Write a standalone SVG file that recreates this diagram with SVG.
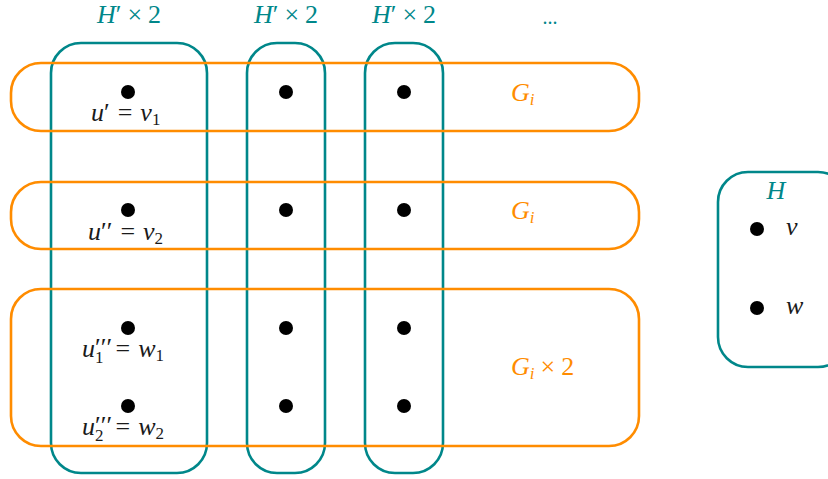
<svg xmlns="http://www.w3.org/2000/svg" width="828" height="479" viewBox="0 0 828 479">
<style>
.t{fill:none;stroke:#00878a;stroke-width:2.6}
.o{fill:none;stroke:#ff8c00;stroke-width:2.6}
text{font-family:'Liberation Serif','Times New Roman',serif;font-size:26px}
.i{font-style:italic}
.tl{fill:#00878a}
.ol{fill:#ff8c00}
.bl{fill:#1a1a1a}
.d{fill:#000}
.s{font-size:17px}
</style>
<rect width="828" height="479" fill="#fff"/>
<g id="columns">
<g id="col1"><rect class="t" x="51" y="43" width="156" height="430" rx="30"/><text class="tl" x="129" y="23" text-anchor="middle"><tspan class="i">H</tspan>′<tspan dx="6">×</tspan><tspan dx="6">2</tspan></text></g>
<g id="col2"><rect class="t" x="247" y="43" width="78" height="430" rx="30"/><text class="tl" x="286" y="23" text-anchor="middle"><tspan class="i">H</tspan>′<tspan dx="6">×</tspan><tspan dx="6">2</tspan></text></g>
<g id="col3"><rect class="t" x="365" y="43" width="78" height="430" rx="30"/><text class="tl" x="404" y="23" text-anchor="middle"><tspan class="i">H</tspan>′<tspan dx="6">×</tspan><tspan dx="6">2</tspan></text></g>
<text class="tl" x="550" y="24" text-anchor="middle" style="font-size:20px">...</text>
</g>
<g id="rows">
<g id="row1"><rect class="o" x="11" y="63" width="628" height="68" rx="30"/><text class="ol" x="511" y="101"><tspan class="i">G</tspan><tspan class="s i" dy="4">i</tspan></text></g>
<g id="row2"><rect class="o" x="11" y="182" width="628" height="67" rx="30"/><text class="ol" x="511" y="219"><tspan class="i">G</tspan><tspan class="s i" dy="4">i</tspan></text></g>
<g id="row3"><rect class="o" x="11" y="289" width="628" height="157" rx="30"/><text class="ol" x="511" y="375"><tspan class="i">G</tspan><tspan class="s i" dy="4">i</tspan><tspan dy="-4" dx="6">×</tspan><tspan dx="6">2</tspan></text></g>
</g>
<g id="H">
<rect class="t" x="718" y="172" width="130" height="195" rx="30"/>
<text class="tl i" x="776" y="199" text-anchor="middle">H</text>
<circle class="d" cx="757" cy="229" r="7"/><text class="bl i" x="786" y="235">v</text>
<circle class="d" cx="757" cy="308" r="7"/><text class="bl i" x="786" y="314">w</text>
</g>
<g id="dots">
<circle class="d" cx="128" cy="92" r="7"/><circle class="d" cx="286" cy="92" r="7"/><circle class="d" cx="404" cy="92" r="7"/>
<circle class="d" cx="128" cy="210" r="7"/><circle class="d" cx="286" cy="210" r="7"/><circle class="d" cx="404" cy="210" r="7"/>
<circle class="d" cx="128" cy="328" r="7"/><circle class="d" cx="286" cy="328" r="7"/><circle class="d" cx="404" cy="328" r="7"/>
<circle class="d" cx="128" cy="406" r="7"/><circle class="d" cx="286" cy="406" r="7"/><circle class="d" cx="404" cy="406" r="7"/>
</g>
<g id="labels">
<text class="bl" x="91" y="121"><tspan class="i">u</tspan>′<tspan dx="8">=</tspan><tspan class="i" dx="8">v</tspan><tspan class="s" dy="4">1</tspan></text>
<text class="bl" x="88" y="240"><tspan class="i">u</tspan>′′<tspan dx="8">=</tspan><tspan class="i" dx="8">v</tspan><tspan class="s" dy="4">2</tspan></text>
<text class="bl" x="82" y="357"><tspan class="i">u</tspan><tspan dy="-1">′′′</tspan><tspan class="s" dx="-17" dy="7">1</tspan><tspan dx="12" dy="-6">=</tspan><tspan class="i" dx="8">w</tspan><tspan class="s" dy="4">1</tspan></text>
<text class="bl" x="82" y="435"><tspan class="i">u</tspan><tspan dy="-1">′′′</tspan><tspan class="s" dx="-17" dy="7">2</tspan><tspan dx="12" dy="-6">=</tspan><tspan class="i" dx="8">w</tspan><tspan class="s" dy="4">2</tspan></text>
</g>
</svg>
